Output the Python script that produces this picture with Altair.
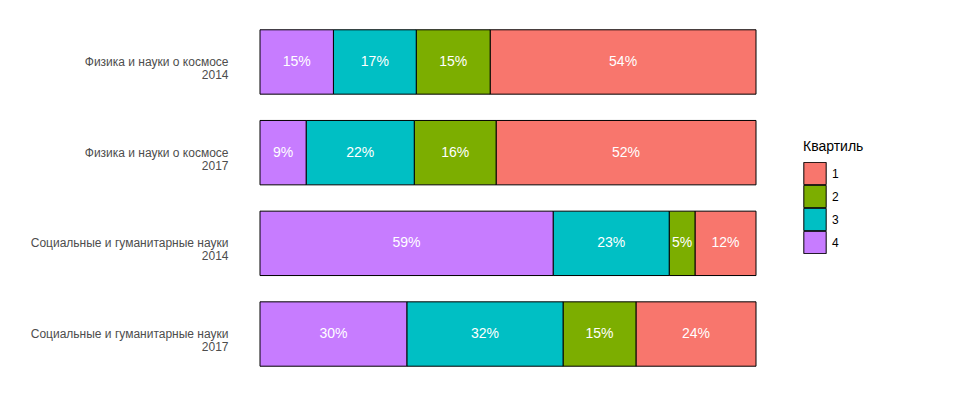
import altair as alt
import pandas as pd

categories = [
    "Физика и науки о космосе\n2014",
    "Физика и науки о космосе\n2017",
    "Социальные и гуманитарные науки\n2014",
    "Социальные и гуманитарные науки\n2017",
]
quartiles = ["1", "2", "3", "4"]
# shares (%) per category, in quartile order 1,2,3,4
shares = [
    [53.6, 14.9, 16.7, 14.8],
    [52.4, 16.5, 21.8, 9.3],
    [12.3, 5.2, 23.4, 59.1],
    [24.2, 14.7, 31.5, 29.6],
]
labels = [
    ["54%", "15%", "17%", "15%"],
    ["52%", "16%", "22%", "9%"],
    ["12%", "5%", "23%", "59%"],
    ["24%", "15%", "32%", "30%"],
]
colors = ["#F8766D", "#7CAE00", "#00BFC4", "#C77CFF"]

rows = []
for c, sv, lv in zip(categories, shares, labels):
    for q, s, l in zip(quartiles, sv, lv):
        rows.append({"cat": c, "q": q, "share": s, "label": l})
df = pd.DataFrame(rows)

base = alt.Chart(df).transform_stack(
    stack="share",
    groupby=["cat"],
    as_=["x0", "x1"],
    sort=[alt.SortField("q", order="descending")],
    offset="normalize",
).transform_calculate(mid="(datum.x0 + datum.x1) / 2")

y = alt.Y(
    "cat:N",
    sort=categories,
    title=None,
    scale=alt.Scale(paddingInner=0.29, paddingOuter=0.13),
    axis=alt.Axis(
        domain=False,
        ticks=False,
        grid=False,
        labelExpr="split(datum.label, '\\n')",
        labelFont="Liberation Sans",
        labelFontSize=12,
        labelColor="#4d4d4d",
        labelAlign="right",
        labelBaseline="middle",
        labelLineHeight=13,
        labelPadding=32,
        labelLimit=300,
    ),
)

xscale = alt.Scale(domain=[0, 1], nice=False, zero=False)

bars = base.mark_bar(stroke="black", strokeWidth=1).encode(
    x=alt.X("x0:Q", axis=None, scale=xscale),
    x2="x1:Q",
    y=y,
    color=alt.Color(
        "q:N",
        scale=alt.Scale(domain=quartiles, range=colors),
        legend=alt.Legend(
            title="Квартиль",
            orient="none",
            legendX=543,
            legendY=122,
            symbolType="square",
            symbolSize=500,
            symbolStrokeColor="black",
            symbolStrokeWidth=1,
            symbolOpacity=1,
            rowPadding=0,
            clipHeight=23,
            labelFont="Liberation Sans",
            labelFontSize=12,
            labelColor="black",
            labelOffset=5,
            titleFont="Liberation Sans",
            titleFontSize=14,
            titleFontWeight="normal",
            titleColor="black",
            titlePadding=8,
        ),
    ),
)

text = base.mark_text(
    color="white", font="Liberation Sans", fontSize=14, baseline="middle", align="center"
).encode(
    x=alt.X("mid:Q", axis=None, scale=xscale),
    y=alt.Y("cat:N", sort=categories),
    text="label:N",
)

chart = (
    alt.layer(bars, text)
    .properties(
        width=496,
        height=360,
        background="white",
        autosize=alt.AutoSizeParams(type="none"),
        padding={"left": 252, "top": 10, "right": 207, "bottom": 13},
    )
    .configure_view(strokeWidth=0, stroke=None)
    .configure_axis(grid=False)
)

chart.save("out.html", embed_options={"renderer": "svg", "actions": False})
